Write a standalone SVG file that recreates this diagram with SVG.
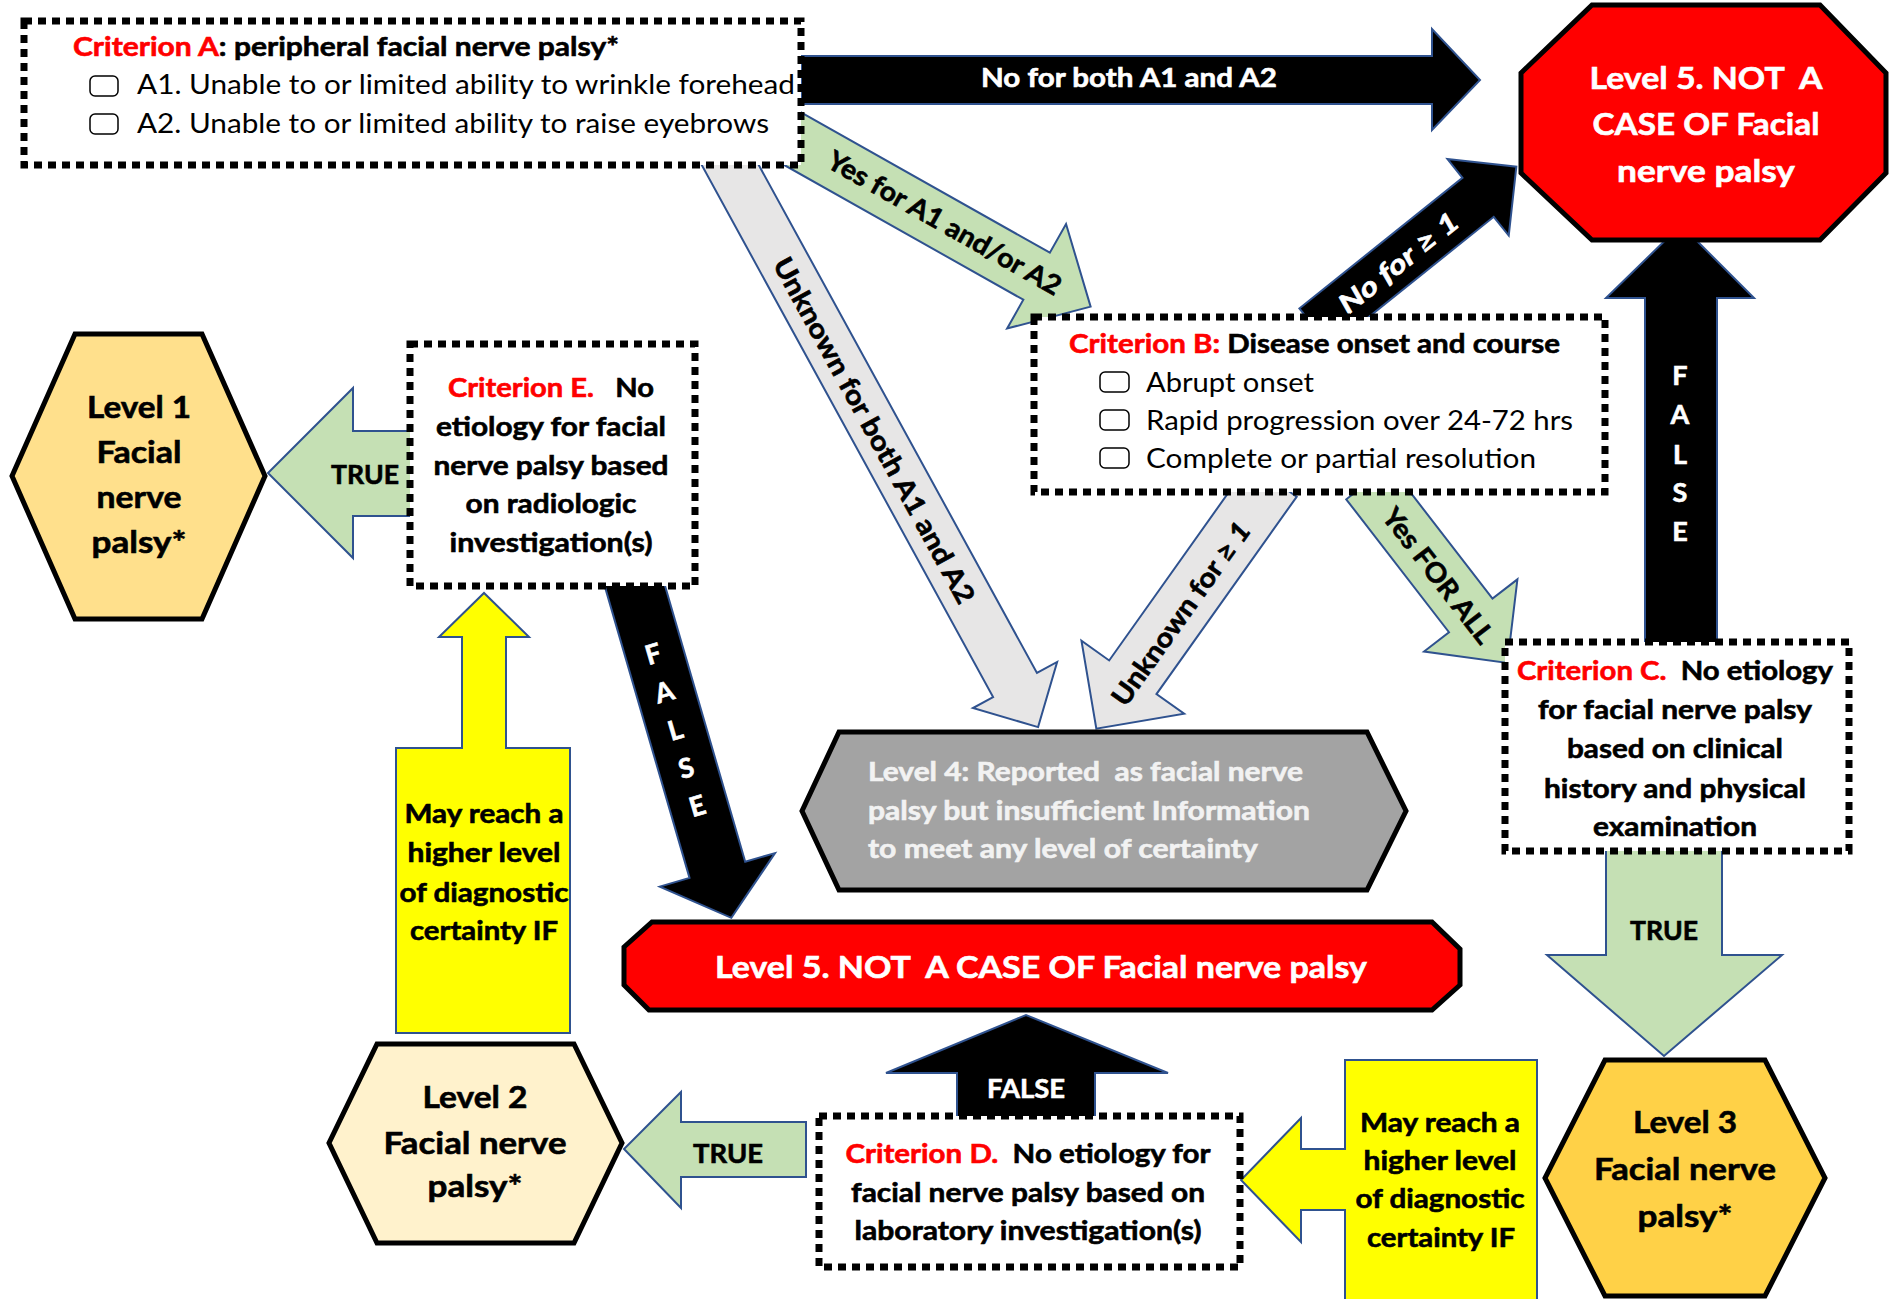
<svg xmlns="http://www.w3.org/2000/svg" width="1892" height="1299" viewBox="0 0 1892 1299">
<style>
text{font-family:Lato,"Liberation Sans",sans-serif;font-weight:700;font-size:27px;fill:#000;stroke:#000;stroke-width:0.6}
.reg{font-weight:400;stroke:none}
.w{fill:#fff;stroke:#fff}
.r{fill:#f00;stroke:#f00}
.lt{fill:#f2f2f2;stroke:#f2f2f2}
.m{text-anchor:middle}
.c{dominant-baseline:central;text-anchor:middle}
.box{fill:#fff;stroke:#000;stroke-width:7;stroke-dasharray:8 6}
.shape{stroke:#000;stroke-width:5;stroke-linejoin:miter}
.arw{stroke:#2F528F;stroke-width:2;stroke-linejoin:miter}
.g{fill:#C5E0B4}.k{fill:#000}.gr{fill:#E7E6E6}.y{fill:#FFFF00}
.cb{fill:#fff;stroke:#000;stroke-width:1.5}
.big{font-size:31px}
</style>
<g id="connectors">
  <path id="arrow-A-no" class="arw k" d="M801,56 H1432 V29 L1480,80 L1432,130 V104 H801 Z"/>
  <path id="arrow-A-yes" class="arw g" d="M0,-27 H306 V-60 L368,0 L306,60 V27 H0 Z" transform="translate(770,126) rotate(29.4)"/>
  <path id="arrow-A-unknown" class="arw gr" d="M0,-25 H610 V-48 L658,0 L610,48 V25 H0 Z" transform="translate(722,150) rotate(61.29)"/>
  <path id="arrow-B-no" class="arw k" d="M0,-25 H209 V-49 L258,0 L209,49 V25 H0 Z" transform="translate(1315,328) rotate(-38.7)"/>
  <path id="arrow-B-unknown" class="arw gr" d="M0,-29 H242 V-63 L305,0 L242,63 V29 H0 Z" transform="translate(1273,480) rotate(125.4)"/>
  <path id="arrow-B-yes" class="arw g" d="M0,-27.5 H168 V-59 L228,0 L168,59 V27.5 H0 Z" transform="translate(1368,482.5) rotate(52.3)"/>
  <path id="arrow-C-false" class="arw k" d="M1645,645 V298 H1606 L1681,225 L1754,298 H1717 V645 Z"/>
  <path id="arrow-C-true" class="arw g" d="M1606,850 V955 H1547 L1664,1056 L1782,955 H1722 V850 Z"/>
  <path id="arrow-L3-up" class="arw y" d="M1345,1060 H1537 V1305 H1345 V1210 H1301 V1242 L1241,1180 L1301,1118 V1149 H1345 Z"/>
  <path id="arrow-D-false" class="arw k" d="M957,1117 V1073 H886 L1026,1015 L1168,1073 H1095 V1117 Z"/>
  <path id="arrow-D-true" class="arw g" d="M806,1122 H681 V1092 L624,1149 L681,1208 V1177 H806 Z"/>
  <path id="arrow-L2-up" class="arw y" d="M396,748 V1033 H570 V748 H506 V637 H529 L484,593 L439,637 H462 V748 Z"/>
  <path id="arrow-E-true" class="arw g" d="M415,431 H353 V388 L268,473 L353,558 V516 H415 Z"/>
  <path id="arrow-E-false" class="arw k" d="M0,-29 H306 V-60 L356,0 L306,60 V29 H0 Z" transform="translate(632,576) rotate(73.8)"/>
  <text class="w" x="1129" y="87" text-anchor="middle" textLength="296" lengthAdjust="spacingAndGlyphs">No for both A1 and A2</text>
  <text class="c" transform="translate(945,222) rotate(29.5)" textLength="264" lengthAdjust="spacingAndGlyphs">Yes for A1 and/or A2</text>
  <text class="c" transform="translate(875,430) rotate(61.3)" textLength="390" lengthAdjust="spacingAndGlyphs">Unknown for both A1 and A2</text>
  <text class="c w" font-style="italic" transform="translate(1398,262) rotate(-38.5)" textLength="145" lengthAdjust="spacingAndGlyphs">No for ≥ 1</text>
  <text class="c" transform="translate(1180,613) rotate(-54.6)" textLength="218" lengthAdjust="spacingAndGlyphs">Unknown for <tspan font-style="italic">≥ 1</tspan></text>
  <text class="c" transform="translate(1439,575) rotate(52.3)" textLength="163" lengthAdjust="spacingAndGlyphs">Yes FOR ALL</text>
  <text class="w m" font-size="26" x="1680" y="385">F</text>
  <text class="w m" font-size="26" x="1680" y="424">A</text>
  <text class="w m" font-size="26" x="1680" y="464">L</text>
  <text class="w m" font-size="26" x="1680" y="502">S</text>
  <text class="w m" font-size="26" x="1680" y="541">E</text>
  <text class="m" x="1664" y="940" textLength="68" lengthAdjust="spacingAndGlyphs">TRUE</text>
  <text class="w m" x="1026" y="1098" textLength="78" lengthAdjust="spacingAndGlyphs">FALSE</text>
  <text class="m" x="728" y="1163" textLength="70" lengthAdjust="spacingAndGlyphs">TRUE</text>
  <text class="m" x="365" y="484" textLength="68" lengthAdjust="spacingAndGlyphs">TRUE</text>
  <text class="w c" font-size="26" transform="translate(653,653) rotate(-16.2)">F</text>
  <text class="w c" font-size="26" transform="translate(664,691) rotate(-16.2)">A</text>
  <text class="w c" font-size="26" transform="translate(675,729) rotate(-16.2)">L</text>
  <text class="w c" font-size="26" transform="translate(686,767) rotate(-16.2)">S</text>
  <text class="w c" font-size="26" transform="translate(697,805) rotate(-16.2)">E</text>
  <text class="m" x="484" y="823" textLength="159" lengthAdjust="spacingAndGlyphs">May reach a</text>
  <text class="m" x="484" y="862" textLength="153" lengthAdjust="spacingAndGlyphs">higher level</text>
  <text class="m" x="484" y="902" textLength="169" lengthAdjust="spacingAndGlyphs">of diagnostic</text>
  <text class="m" x="484" y="940" textLength="148" lengthAdjust="spacingAndGlyphs">certainty IF</text>
  <text class="m" x="1440" y="1132" textLength="160" lengthAdjust="spacingAndGlyphs">May reach a</text>
  <text class="m" x="1440" y="1170" textLength="153" lengthAdjust="spacingAndGlyphs">higher level</text>
  <text class="m" x="1440" y="1208" textLength="169" lengthAdjust="spacingAndGlyphs">of diagnostic</text>
  <text class="m" x="1441" y="1247" textLength="148" lengthAdjust="spacingAndGlyphs">certainty IF</text>
</g>
<g id="criterion-A">
  <rect class="box" x="24" y="21" width="777" height="144"/>
  <text x="73" y="56" textLength="546" lengthAdjust="spacingAndGlyphs"><tspan class="r">Criterion A</tspan>: peripheral facial nerve palsy*</text>
  <rect class="cb" x="90" y="76" width="28" height="20" rx="5"/>
  <rect class="cb" x="90" y="114" width="28" height="20" rx="5"/>
  <text class="reg" x="137" y="94" font-size="26" textLength="658" lengthAdjust="spacingAndGlyphs">A1. Unable to or limited ability to wrinkle forehead</text>
  <text class="reg" x="137" y="133" font-size="26" textLength="632" lengthAdjust="spacingAndGlyphs">A2. Unable to or limited ability to raise eyebrows</text>
</g>
<g id="level5-top">
  <polygon class="shape" fill="#f00" points="1592,5 1820,5 1886,73 1886,173 1820,240 1592,240 1521,173 1521,73"/>
  <text class="w m big" x="1706" y="89" xml:space="preserve" textLength="233" lengthAdjust="spacingAndGlyphs">Level 5. NOT  A</text>
  <text class="w m big" x="1706" y="135" textLength="227" lengthAdjust="spacingAndGlyphs">CASE OF Facial</text>
  <text class="w m big" x="1706" y="182" textLength="178" lengthAdjust="spacingAndGlyphs">nerve palsy</text>
</g>
<g id="criterion-B">
  <rect class="box" x="1034" y="317" width="571" height="175"/>
  <text x="1069" y="353" textLength="491" lengthAdjust="spacingAndGlyphs"><tspan class="r">Criterion B:</tspan> Disease onset and course</text>
  <rect class="cb" x="1100" y="372" width="29" height="20" rx="5"/>
  <rect class="cb" x="1100" y="410" width="29" height="20" rx="5"/>
  <rect class="cb" x="1100" y="448" width="29" height="20" rx="5"/>
  <text class="reg" x="1146" y="392" font-size="26" textLength="168" lengthAdjust="spacingAndGlyphs">Abrupt onset</text>
  <text class="reg" x="1146" y="430" font-size="26" textLength="427" lengthAdjust="spacingAndGlyphs">Rapid progression over 24-72 hrs</text>
  <text class="reg" x="1146" y="468" font-size="26" textLength="390" lengthAdjust="spacingAndGlyphs">Complete or partial resolution</text>
</g>
<g id="criterion-C">
  <rect class="box" x="1505" y="642" width="344" height="209"/>
  <text class="m" x="1675" y="680" xml:space="preserve" textLength="316" lengthAdjust="spacingAndGlyphs"><tspan class="r">Criterion C.</tspan>  No etiology</text>
  <text class="m" x="1675" y="719" textLength="274" lengthAdjust="spacingAndGlyphs">for facial nerve palsy</text>
  <text class="m" x="1675" y="758" textLength="216" lengthAdjust="spacingAndGlyphs">based on clinical</text>
  <text class="m" x="1675" y="798" textLength="262" lengthAdjust="spacingAndGlyphs">history and physical</text>
  <text class="m" x="1675" y="836" textLength="164" lengthAdjust="spacingAndGlyphs">examination</text>
</g>
<g id="level3">
  <polygon class="shape" fill="#FFD147" points="1605,1060 1765,1060 1825,1178 1765,1296 1605,1296 1545,1178"/>
  <text class="m big" x="1685" y="1133" textLength="104" lengthAdjust="spacingAndGlyphs">Level 3</text>
  <text class="m big" x="1685" y="1180" textLength="182" lengthAdjust="spacingAndGlyphs">Facial nerve</text>
  <text class="m big" x="1685" y="1227" textLength="95" lengthAdjust="spacingAndGlyphs">palsy*</text>
</g>
<g id="level4">
  <polygon class="shape" fill="#A3A3A3" points="839,732 1367,732 1406,811 1367,890 839,890 802,811"/>
  <text class="lt" x="868" y="781" xml:space="preserve" textLength="435" lengthAdjust="spacingAndGlyphs">Level 4: Reported  as facial nerve</text>
  <text class="lt" x="868" y="820" textLength="442" lengthAdjust="spacingAndGlyphs">palsy but insufficient Information</text>
  <text class="lt" x="868" y="858" textLength="390" lengthAdjust="spacingAndGlyphs">to meet any level of certainty</text>
</g>
<g id="level5-bottom">
  <polygon class="shape" fill="#f00" points="652,922 1432,922 1460,949 1460,985 1432,1010 649,1010 624,985 624,947"/>
  <text class="w m big" x="1041" y="978" xml:space="preserve" textLength="652" lengthAdjust="spacingAndGlyphs">Level 5. NOT  A CASE OF Facial nerve palsy</text>
</g>
<g id="criterion-D">
  <rect class="box" x="819" y="1116" width="421" height="151"/>
  <text class="m" x="1028" y="1163" xml:space="preserve" textLength="365" lengthAdjust="spacingAndGlyphs"><tspan class="r">Criterion D.</tspan>  No etiology for</text>
  <text class="m" x="1028" y="1202" textLength="354" lengthAdjust="spacingAndGlyphs">facial nerve palsy based on</text>
  <text class="m" x="1028" y="1240" textLength="347" lengthAdjust="spacingAndGlyphs">laboratory investigation(s)</text>
</g>
<g id="level2">
  <polygon class="shape" fill="#FFF2CC" points="377,1044 574,1044 622,1143 574,1243 377,1243 329,1143"/>
  <text class="m big" x="475" y="1108" textLength="105" lengthAdjust="spacingAndGlyphs">Level 2</text>
  <text class="m big" x="475" y="1154" textLength="183" lengthAdjust="spacingAndGlyphs">Facial nerve</text>
  <text class="m big" x="475" y="1197" textLength="95" lengthAdjust="spacingAndGlyphs">palsy*</text>
</g>
<g id="criterion-E">
  <rect class="box" x="410" y="344" width="285" height="242"/>
  <text class="m" x="551" y="397" xml:space="preserve" textLength="206" lengthAdjust="spacingAndGlyphs"><tspan class="r">Criterion E.</tspan>   No</text>
  <text class="m" x="551" y="436" textLength="230" lengthAdjust="spacingAndGlyphs">etiology for facial</text>
  <text class="m" x="551" y="475" textLength="235" lengthAdjust="spacingAndGlyphs">nerve palsy based</text>
  <text class="m" x="551" y="513" textLength="171" lengthAdjust="spacingAndGlyphs">on radiologic</text>
  <text class="m" x="551" y="552" textLength="203" lengthAdjust="spacingAndGlyphs">investigation(s)</text>
</g>
<g id="level1">
  <polygon class="shape" fill="#FFE08C" points="75,334 202,334 265,476 202,619 75,619 12,476"/>
  <text class="m big" x="139" y="418" textLength="104" lengthAdjust="spacingAndGlyphs">Level 1</text>
  <text class="m big" x="139" y="463" textLength="85" lengthAdjust="spacingAndGlyphs">Facial</text>
  <text class="m big" x="139" y="508" textLength="85" lengthAdjust="spacingAndGlyphs">nerve</text>
  <text class="m big" x="139" y="553" textLength="95" lengthAdjust="spacingAndGlyphs">palsy*</text>
</g>
</svg>
